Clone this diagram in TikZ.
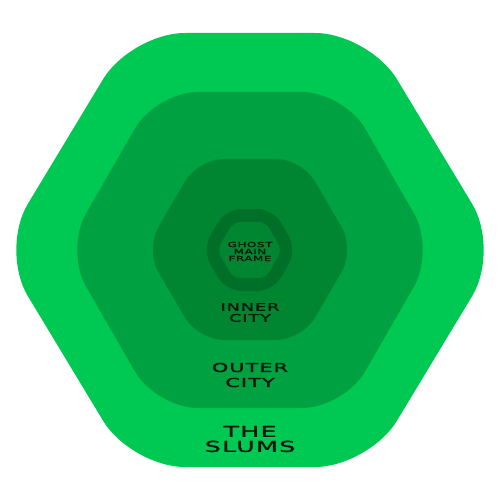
\documentclass[tikz,border=0pt]{standalone}
\usepackage{fontspec}
\newfontfamily\techfont[FakeStretch=1.7,LetterSpace=8,FakeBold=1.2]{DejaVu Sans}
\definecolor{slumcol}{RGB}{0,201,83}
\definecolor{outercol}{RGB}{0,161,64}
\definecolor{innercol}{RGB}{0,134,48}
\definecolor{ringcol}{RGB}{0,111,40}
\definecolor{txtcol}{RGB}{8,22,12}
\begin{document}
\begin{tikzpicture}[x=1pt,y=-1pt,
  lbl/.style={inner sep=0pt, align=center, text=txtcol}]
\useasboundingbox (0,0) rectangle (500,500);
% the slums
\fill[slumcol, rounded corners=54pt] (131,33) -- (369,33) -- (500,250) -- (369,467) -- (131,467) -- (0,250) -- cycle;
% outer city
\fill[outercol, rounded corners=42pt] (156,92) -- (344,92) -- (435,250) -- (344,408) -- (156,408) -- (65,250) -- cycle;
% inner city
\fill[innercol, rounded corners=26pt] (198,159) -- (302,159) -- (354.6,249.5) -- (302,340) -- (198,340) -- (145.4,249.5) -- cycle;
% ghost ring
\fill[ringcol, rounded corners=16pt] (225.8,209) -- (273.2,209) -- (296.8,250) -- (273.2,291) -- (225.8,291) -- (202.2,250) -- cycle;
\fill[innercol, rounded corners=7pt] (233.3,222) -- (265.7,222) -- (281.8,250) -- (265.7,278) -- (233.3,278) -- (217.2,250) -- cycle;
% labels
\node[lbl, font=\techfont\fontsize{15}{15}\selectfont] (slums) at (250,439) {THE\\SLUMS};
\node[lbl, font=\techfont\fontsize{12.3}{15}\selectfont] (outer) at (250,375) {OUTER\\CITY};
\node[lbl, font=\techfont\fontsize{10.5}{11}\selectfont] (inner) at (250,312.5) {INNER\\CITY};
\node[lbl, font=\techfont\fontsize{7}{7}\selectfont] (ghost) at (250,251.5) {GHOST\\MAIN\\FRAME};
\end{tikzpicture}
\end{document}
